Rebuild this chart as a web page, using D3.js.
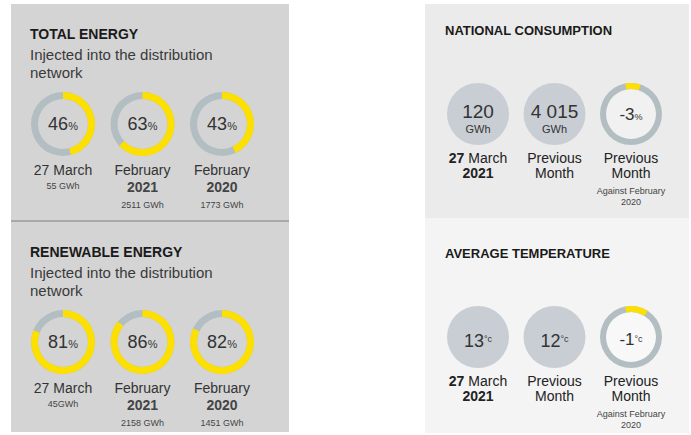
<!DOCTYPE html>
<html>
<head>
<meta charset="utf-8">
<script src="https://cdn.jsdelivr.net/npm/d3@7"></script>
<style>
  body { margin: 0; background: #fff; }
  text { font-family: "Liberation Sans", Arial, sans-serif; }
</style>
</head>
<body>
<div id="my_dataviz"></div>
<script>
// Data
const energyTitles = ["TOTAL ENERGY", "RENEWABLE ENERGY"];
const energySubtitle = ["Injected into the distribution", "network"];
const energyPercent = [[46, 63, 43], [81, 86, 82]];
const energyPeriods = [["27 March"], ["February", "2021"], ["February", "2020"]];
const energyTotals = [["55 GWh", "2511 GWh", "1773 GWh"], ["45GWh", "2158 GWh", "1451 GWh"]];

const statTitles = ["NATIONAL CONSUMPTION", "AVERAGE TEMPERATURE"];
const statValues = [[120, "4 015"], [13, 12]];
const statUnits = ["GWh", "°c"];
const statChange = [-3, -1];
const statChangeUnit = ["%", "°c"];
const statMarker = [[-3, 5], [-3, 9]];   // yellow tick on the change ring, % of turn
const statPeriods = [["27 March", "2021"], ["Previous", "Month"], ["Previous", "Month"]];
const statNote = ["Against February", "2020"];

const YELLOW = "#fde000",
  RING = "#b3bec3",
  DISC = "#c9ced4",
  INK = "#333";

const width = 691, height = 435;

const svg = d3.select("#my_dataviz")
  .append("svg")
  .attr("width", width)
  .attr("height", height);

// percent -> angle
const angle = d3.scaleLinear().domain([0, 100]).range([0, 2 * Math.PI]);

// 1. Left panel (two energy blocks)
svg.append("rect")
  .attr("x", 11).attr("y", 4)
  .attr("width", 278).attr("height", 428)
  .attr("fill", "#d4d4d4");

svg.append("rect")
  .attr("x", 11).attr("y", 220)
  .attr("width", 278).attr("height", 2)
  .attr("fill", "#a9a9a9");

const colX = d3.scalePoint().domain([0, 1, 2]).range([63, 222]);

const donutArc = d3.arc().innerRadius(25).outerRadius(32);

energyTitles.forEach((title, i) => {
  const y0 = 4 + i * 218;
  const g = svg.append("g").attr("transform", `translate(0,${y0})`);

  g.append("text")
    .attr("x", 30).attr("y", 35)
    .attr("font-size", "14px")
    .attr("font-weight", "bold")
    .attr("fill", "#1a1a1a")
    .text(title);

  g.selectAll(".sub")
    .data(energySubtitle)
    .enter()
    .append("text")
    .attr("x", 30)
    .attr("y", (d, k) => 56 + k * 18)
    .attr("font-size", "15px")
    .attr("fill", "#3a3a3a")
    .text(d => d);

  energyPercent[i].forEach((p, c) => {
    const cg = g.append("g").attr("transform", `translate(${colX(c)},120)`);

    cg.append("path")
      .attr("d", donutArc({ startAngle: 0, endAngle: 2 * Math.PI }))
      .attr("fill", RING);
    cg.append("path")
      .attr("d", donutArc({ startAngle: 0, endAngle: angle(p) }))
      .attr("fill", YELLOW);

    const t = cg.append("text")
      .attr("text-anchor", "middle")
      .attr("y", 6)
      .attr("fill", INK);
    t.append("tspan").attr("font-size", "18px").text(p);
    t.append("tspan").attr("font-size", "11px").text("%");

    const lines = energyPeriods[c];
    lines.forEach((l, k) => {
      cg.append("text")
        .attr("text-anchor", "middle")
        .attr("y", 51 + k * 17)
        .attr("font-size", "14px")
        .attr("font-weight", k === 1 ? "bold" : "normal")
        .attr("fill", k === 1 ? "#444" : INK)
        .text(l);
    });

    cg.append("text")
      .attr("text-anchor", "middle")
      .attr("y", lines.length === 1 ? 65 : 84)
      .attr("font-size", "9px")
      .attr("fill", "#444")
      .text(energyTotals[i][c]);
  });
});

// 2. Right panel (consumption / temperature)
svg.append("rect")
  .attr("x", 425).attr("y", 4)
  .attr("width", 264).attr("height", 214)
  .attr("fill", "#ebebeb");
svg.append("rect")
  .attr("x", 425).attr("y", 218)
  .attr("width", 264).attr("height", 215)
  .attr("fill", "#f4f4f4");

const statX = d3.scalePoint().domain([0, 1, 2]).range([478, 631]);
const ringArc = d3.arc().innerRadius(25).outerRadius(31);

statTitles.forEach((title, i) => {
  const y0 = i * 223;
  const g = svg.append("g").attr("transform", `translate(0,${y0})`);

  g.append("text")
    .attr("x", 445).attr("y", 35)
    .attr("font-size", "13px")
    .attr("font-weight", "bold")
    .attr("fill", "#1a1a1a")
    .text(title);

  // two filled discs
  statValues[i].forEach((v, c) => {
    const cg = g.append("g").attr("transform", `translate(${statX(c)},114)`);
    cg.append("circle").attr("r", 31).attr("fill", DISC);

    if (i === 0) {
      cg.append("text")
        .attr("text-anchor", "middle").attr("y", 4)
        .attr("font-size", "19px").attr("fill", INK)
        .text(v);
      cg.append("text")
        .attr("text-anchor", "middle").attr("y", 19)
        .attr("font-size", "11px").attr("fill", INK)
        .text(statUnits[i]);
    } else {
      const t = cg.append("text")
        .attr("text-anchor", "middle").attr("y", 10)
        .attr("fill", INK);
      t.append("tspan").attr("font-size", "18px").text(v);
      t.append("tspan").attr("font-size", "9px").attr("dy", -5).text(statUnits[i]);
    }
  });

  // change ring
  const rg = g.append("g").attr("transform", `translate(${statX(2)},114)`);
  rg.append("circle").attr("r", 25).attr("fill", i === 0 ? "#f1f1f1" : "#f8f8f8");
  rg.append("path")
    .attr("d", ringArc({ startAngle: 0, endAngle: 2 * Math.PI }))
    .attr("fill", RING);
  rg.append("path")
    .attr("d", ringArc({ startAngle: angle(statMarker[i][0]), endAngle: angle(statMarker[i][1]) }))
    .attr("fill", YELLOW);
  const ct = rg.append("text")
    .attr("text-anchor", "middle").attr("y", i === 0 ? 6 : 8)
    .attr("fill", INK);
  ct.append("tspan").attr("font-size", "17px").text(statChange[i]);
  ct.append("tspan").attr("font-size", "9px")
    .attr("dy", i === 0 ? 0 : -3)
    .text(statChangeUnit[i]);

  // labels under
  statPeriods.forEach((lines, c) => {
    lines.forEach((l, k) => {
      const t = g.append("text")
        .attr("x", statX(c))
        .attr("y", 163 + k * 15)
        .attr("text-anchor", "middle")
        .attr("font-size", "14px")
        .attr("fill", "#222");
      if (c === 0) {
        const parts = l.split(" ");
        t.append("tspan").attr("font-weight", "bold").text(parts[0]);
        if (parts.length > 1) t.append("tspan").text(" " + parts.slice(1).join(" "));
      } else {
        t.text(l);
      }
    });
  });

  statNote.forEach((n, k) => {
    g.append("text")
      .attr("x", statX(2))
      .attr("y", 194 + k * 11)
      .attr("text-anchor", "middle")
      .attr("font-size", "9px")
      .attr("fill", "#444")
      .text(n);
  });
});
</script>
</body>
</html>
